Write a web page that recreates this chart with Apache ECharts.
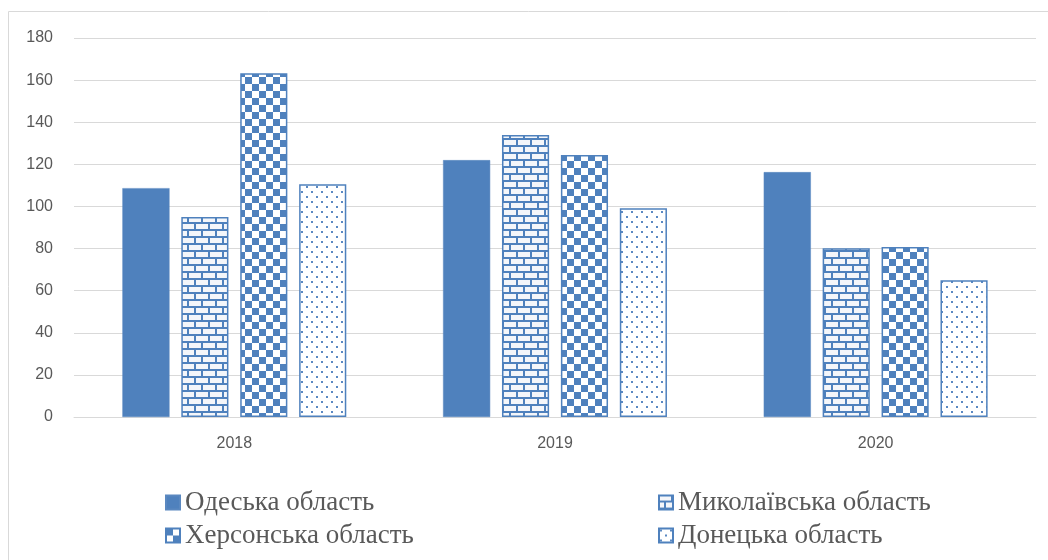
<!DOCTYPE html>
<html>
<head>
<meta charset="utf-8">
<style>html,body{margin:0;padding:0;background:#fff}#c{width:1048px;height:560px}</style>
<script src="https://cdn.jsdelivr.net/npm/echarts@6/dist/echarts.min.js"></script>
</head>
<body>
<div id="c"></div>
<script>
const categories = ['2018', '2019', '2020'];
const seriesNames = ['Одеська область', 'Миколаївська область', 'Херсонська область', 'Донецька область'];
const odesa = [108.7, 122, 116.3];
const mykolaiv = [95, 133.9, 80.2];
const kherson = [163.3, 124.4, 80.7];
const donetsk = [110.6, 99.2, 65];
const yTicks = { min: 0, max: 180, interval: 20 };

const BLUE = '#4F81BD';
function mk(w, h, draw) {
  const c = document.createElement('canvas');
  c.width = w; c.height = h;
  const g = c.getContext('2d');
  draw(g);
  return c;
}
const brick = mk(14, 14, g => {
  g.fillStyle = BLUE; g.fillRect(0, 0, 14, 14);
  g.fillStyle = '#f4f6fa';
  g.fillRect(0, 0, 12, 5);
  g.fillRect(7, 7, 7, 5); g.fillRect(0, 7, 5, 5);
});
const checker = mk(14, 14, g => {
  g.fillStyle = '#fff'; g.fillRect(0, 0, 14, 14);
  g.fillStyle = BLUE;
  g.fillRect(0, 0, 7, 7); g.fillRect(7, 7, 7, 7);
});
const dots = mk(10, 10, g => {
  g.fillStyle = '#fff'; g.fillRect(0, 0, 10, 10);
  g.fillStyle = '#5b89c2';
  g.fillRect(1, 1, 2, 2); g.fillRect(6, 6, 2, 2);
});

const fills = [BLUE, { image: brick, repeat: 'repeat' }, { image: checker, repeat: 'repeat' }, { image: dots, repeat: 'repeat' }];
const values = [odesa, mykolaiv, kherson, donetsk];

const chart = echarts.init(document.getElementById('c'));
const legendText = { fontFamily: 'Liberation Serif', fontSize: 27, lineHeight: 27, color: '#595959' };
chart.setOption({
  animation: false,
  graphic: [{
    type: 'rect', shape: { x: 8.5, y: 11.5, width: 1060, height: 600 },
    style: { fill: 'none', stroke: '#d9d9d9', lineWidth: 1 }, silent: true, z: -10
  }],
  grid: { left: 74, right: 12, top: 38, bottom: 143 },
  legend: [{
    orient: 'vertical', left: 160, top: 484, itemWidth: 14, itemHeight: 14, itemGap: 6,
    data: [seriesNames[0], seriesNames[2]], textStyle: legendText, icon: 'rect'
  }, {
    orient: 'vertical', left: 653, top: 484, itemWidth: 14, itemHeight: 14, itemGap: 6,
    data: [seriesNames[1], seriesNames[3]], textStyle: legendText, icon: 'rect'
  }],
  xAxis: {
    type: 'category', data: categories,
    axisLine: { lineStyle: { color: '#d9d9d9', width: 1 } },
    axisTick: { show: false },
    axisLabel: { color: '#595959', fontFamily: 'Liberation Sans', fontSize: 16, margin: 19 }
  },
  yAxis: {
    type: 'value', min: yTicks.min, max: yTicks.max, interval: yTicks.interval,
    axisLine: { show: false }, axisTick: { show: false },
    splitLine: { lineStyle: { color: '#d9d9d9', width: 1 } },
    axisLabel: { color: '#595959', fontFamily: 'Liberation Sans', fontSize: 16, margin: 21 }
  },
  series: seriesNames.map((n, i) => ({
    name: n, type: 'bar', data: values[i],
    barWidth: '14.7%', barGap: '25%',
    itemStyle: { color: fills[i], borderColor: i === 0 ? '#5a88c0' : BLUE, borderWidth: i === 0 ? 0.5 : 1.5 }
  }))
});
</script>
</body>
</html>
